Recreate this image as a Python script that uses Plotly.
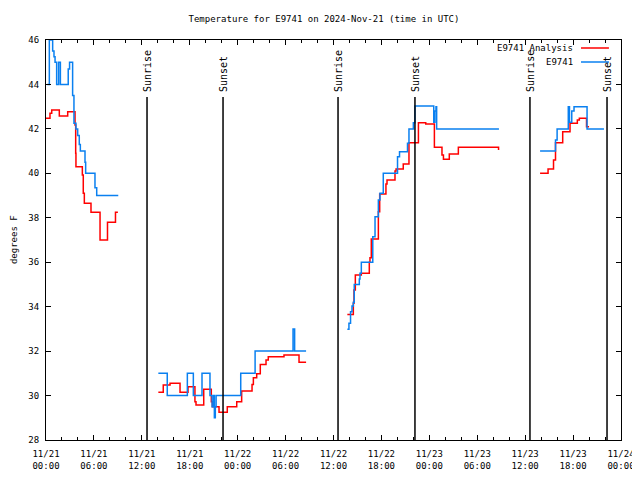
import plotly.graph_objects as go

# ---------------- data ----------------
blue_t1 = ["2024-11-21 00:10", "2024-11-21 00:25", "2024-11-21 00:50", "2024-11-21 01:00", "2024-11-21 01:08",
           "2024-11-21 01:20", "2024-11-21 01:35", "2024-11-21 01:48", "2024-11-21 02:47", "2024-11-21 02:57",
           "2024-11-21 03:20", "2024-11-21 03:30", "2024-11-21 03:45", "2024-11-21 03:58", "2024-11-21 04:10",
           "2024-11-21 04:18", "2024-11-21 04:53", "2024-11-21 04:58", "2024-11-21 06:08", "2024-11-21 06:21",
           "2024-11-21 09:03"]
blue_v1 = [44.0, 46.0, 45.5, 45.25, 45.0, 44.0, 45.0, 44.0, 44.7, 45.0,
           43.5, 42.25, 42.0, 41.7, 41.3, 41.0, 40.5, 40.0, 39.35, 39.0, 39.0]

red_t1 = ["2024-11-21 00:00", "2024-11-21 00:30", "2024-11-21 00:43", "2024-11-21 01:40", "2024-11-21 02:43",
          "2024-11-21 03:38", "2024-11-21 03:43", "2024-11-21 03:45", "2024-11-21 04:33", "2024-11-21 04:40",
          "2024-11-21 04:48", "2024-11-21 05:38", "2024-11-21 06:46", "2024-11-21 07:42", "2024-11-21 08:42",
          "2024-11-21 09:00"]
red_v1 = [42.48, 42.7, 42.85, 42.58, 42.77, 42.18, 40.9, 40.3, 39.93, 39.1,
          38.65, 38.25, 37.0, 37.8, 38.25, 38.25]

blue_t2 = ["2024-11-21 14:04", "2024-11-21 15:11", "2024-11-21 17:42", "2024-11-21 18:27", "2024-11-21 19:32",
           "2024-11-21 20:32", "2024-11-21 20:48", "2024-11-21 21:00", "2024-11-21 21:05", "2024-11-21 21:12",
           "2024-11-21 21:18", "2024-11-22 00:23", "2024-11-22 02:11", "2024-11-22 06:56", "2024-11-22 07:08",
           "2024-11-22 08:34"]
blue_v2 = [31.0, 30.0, 31.0, 30.0, 31.0, 30.0, 29.5, 30.0, 29.0, 29.5,
           30.0, 31.0, 32.0, 33.0, 32.0, 32.0]

red_t2 = ["2024-11-21 14:04", "2024-11-21 14:41", "2024-11-21 15:32", "2024-11-21 16:47", "2024-11-21 17:47",
          "2024-11-21 18:39", "2024-11-21 18:47", "2024-11-21 19:45", "2024-11-21 20:42", "2024-11-21 20:50",
          "2024-11-21 21:40", "2024-11-21 22:42", "2024-11-21 23:53", "2024-11-22 00:30", "2024-11-22 01:48",
          "2024-11-22 01:58", "2024-11-22 02:23", "2024-11-22 02:50", "2024-11-22 03:33", "2024-11-22 03:50",
          "2024-11-22 05:48", "2024-11-22 07:41", "2024-11-22 08:34"]
red_v2 = [30.15, 30.47, 30.55, 30.15, 30.4, 29.72, 29.58, 30.28, 29.72, 29.5,
          29.25, 29.5, 29.72, 30.2, 30.5, 30.8, 30.98, 31.4, 31.6, 31.75,
          31.82, 31.5, 31.5]

blue_t3 = ["2024-11-22 13:44", "2024-11-22 13:56", "2024-11-22 14:08", "2024-11-22 14:19", "2024-11-22 14:29",
           "2024-11-22 14:36", "2024-11-22 15:14", "2024-11-22 15:19", "2024-11-22 15:29", "2024-11-22 16:55",
           "2024-11-22 17:12", "2024-11-22 17:37", "2024-11-22 17:49", "2024-11-22 18:14", "2024-11-22 20:01",
           "2024-11-22 20:16", "2024-11-22 21:16", "2024-11-22 21:27", "2024-11-22 22:00", "2024-11-22 22:12",
           "2024-11-23 00:33", "2024-11-23 00:42", "2024-11-23 00:50", "2024-11-23 00:55", "2024-11-23 08:43"]
blue_v3 = [32.98, 33.25, 33.77, 34.03, 34.2, 35.0, 35.25, 35.5, 36.0, 37.15,
           38.05, 38.8, 39.1, 40.0, 40.75, 40.97, 41.35, 42.0, 42.28, 43.03,
           42.3, 42.8, 43.0, 42.0, 42.0]

red_t3 = ["2024-11-22 13:44", "2024-11-22 14:29", "2024-11-22 14:34", "2024-11-22 14:44", "2024-11-22 15:29",
          "2024-11-22 16:29", "2024-11-22 16:34", "2024-11-22 16:44", "2024-11-22 17:37", "2024-11-22 17:47",
          "2024-11-22 18:34", "2024-11-22 18:42", "2024-11-22 19:42", "2024-11-22 19:50", "2024-11-22 20:44",
          "2024-11-22 21:27", "2024-11-22 22:38", "2024-11-22 23:33", "2024-11-23 00:38", "2024-11-23 01:35",
          "2024-11-23 01:46", "2024-11-23 02:30", "2024-11-23 03:38", "2024-11-23 08:38", "2024-11-23 08:40"]
red_v3 = [33.65, 34.15, 34.75, 35.42, 35.5, 36.0, 36.2, 37.05, 38.27, 39.07,
          39.52, 39.7, 40.1, 40.2, 40.42, 41.38, 42.28, 42.22, 41.17, 40.82,
          40.63, 40.87, 41.17, 41.17, 41.05]

blue_t4 = ["2024-11-23 13:52", "2024-11-23 15:48", "2024-11-23 16:00", "2024-11-23 17:24", "2024-11-23 17:33",
           "2024-11-23 17:50", "2024-11-23 18:07", "2024-11-23 19:45", "2024-11-23 21:52"]
blue_v4 = [41.0, 41.5, 42.0, 43.0, 42.3, 42.8, 43.0, 42.0, 42.0]

red_t4 = ["2024-11-23 13:52", "2024-11-23 14:52", "2024-11-23 15:33", "2024-11-23 15:48", "2024-11-23 16:42",
          "2024-11-23 17:37", "2024-11-23 18:32", "2024-11-23 18:47", "2024-11-23 19:41", "2024-11-23 20:00"]
red_v4 = [40.0, 40.2, 40.6, 41.38, 41.87, 42.25, 42.4, 42.48, 42.1, 42.1]

sunrise_times = ["2024-11-21 12:39", "2024-11-22 12:34", "2024-11-23 12:36"]
sunset_times = ["2024-11-21 22:10", "2024-11-22 22:12", "2024-11-23 22:15"]

x_tick_vals = ["2024-11-21 00:00", "2024-11-21 06:00", "2024-11-21 12:00", "2024-11-21 18:00",
               "2024-11-22 00:00", "2024-11-22 06:00", "2024-11-22 12:00", "2024-11-22 18:00",
               "2024-11-23 00:00", "2024-11-23 06:00", "2024-11-23 12:00", "2024-11-23 18:00",
               "2024-11-24 00:00"]
x_tick_text = ["11/21<br>00:00", "11/21<br>06:00", "11/21<br>12:00", "11/21<br>18:00",
               "11/22<br>00:00", "11/22<br>06:00", "11/22<br>12:00", "11/22<br>18:00",
               "11/23<br>00:00", "11/23<br>06:00", "11/23<br>12:00", "11/23<br>18:00",
               "11/24<br>00:00"]

title_text = "Temperature for E9741 on 2024-Nov-21 (time in UTC)"
y_title = "degrees F"
name_red = "E9741 Analysis"
name_blue = "E9741"

RED = "#ff0000"
BLUE = "#0a80f0"
FONT = "DejaVu Sans Mono"

# the page body has an 8px margin; the figure is sized to fill what is left
FIG_W, FIG_H = 632, 472


def join(*parts):
    out_t, out_v = [], []
    for t, v in parts:
        if out_t:
            out_t.append(None)
            out_v.append(None)
        out_t.extend(t)
        out_v.extend(v)
    return out_t, out_v


rt, rv = join((red_t1, red_v1), (red_t2, red_v2), (red_t3, red_v3), (red_t4, red_v4))
bt, bv = join((blue_t1, blue_v1), (blue_t2, blue_v2), (blue_t3, blue_v3), (blue_t4, blue_v4))

fig = go.Figure()
fig.add_trace(go.Scatter(x=rt, y=rv, mode="lines", line=dict(color=RED, width=1.5, shape="hv"),
                         name=name_red, connectgaps=False))
fig.add_trace(go.Scatter(x=bt, y=bv, mode="lines", line=dict(color=BLUE, width=1.5, shape="hv"),
                         name=name_blue, connectgaps=False))

shapes = []
annotations = []
LINE_TOP = 0.8575
LABEL_BOTTOM = 0.865
for t in sunrise_times + sunset_times:
    shapes.append(dict(type="line", xref="x", yref="paper", x0=t, x1=t, y0=0, y1=LINE_TOP,
                       line=dict(color="black", width=1.5)))
for t in sunrise_times:
    annotations.append(dict(x=t, xref="x", y=LABEL_BOTTOM, yref="paper", text="Sunrise", textangle=-90,
                            showarrow=False, xanchor="center", yanchor="bottom",
                            font=dict(family=FONT, size=10, color="black")))
for t in sunset_times:
    annotations.append(dict(x=t, xref="x", y=LABEL_BOTTOM, yref="paper", text="Sunset", textangle=-90,
                            showarrow=False, xanchor="center", yanchor="bottom",
                            font=dict(family=FONT, size=10, color="black")))

# gnuplot-style key (top right, text right aligned, sample to the right)
key_rows = [(name_red, RED, 0.98), (name_blue, BLUE, 0.945)]
for name, col, yy in key_rows:
    annotations.append(dict(x=0.92, xref="paper", y=yy, yref="paper", text=name, showarrow=False,
                            xanchor="right", yanchor="middle", font=dict(family=FONT, size=9, color="black")))
    shapes.append(dict(type="line", xref="paper", yref="paper", x0=0.9304, x1=0.979, y0=yy, y1=yy,
                       line=dict(color=col, width=1.5)))

annotations.append(dict(x=-0.0555, xref="paper", y=0.5, yref="paper", text=y_title, textangle=-90,
                        showarrow=False, xanchor="center", yanchor="middle", borderpad=0,
                        font=dict(family=FONT, size=9, color="black")))

fig.update_layout(
    width=FIG_W, height=FIG_H,
    autosize=False,
    margin=dict(l=38, r=19, t=32, b=40, autoexpand=False),
    paper_bgcolor="white", plot_bgcolor="white",
    showlegend=False,
    title=dict(text=title_text, x=0.5, xref="container", xanchor="center",
               y=1 - 11 / FIG_H, yref="container", yanchor="middle",
               font=dict(family=FONT, size=9, color="black")),
    font=dict(family=FONT, size=9, color="black"),
    shapes=shapes, annotations=annotations,
)
fig.update_xaxes(
    type="date", range=["2024-11-21 00:00", "2024-11-24 00:00"],
    tickvals=x_tick_vals, ticktext=x_tick_text,
    ticks="inside", ticklen=5, tickcolor="black", tickwidth=1,
    minor=dict(dtick=2 * 3600 * 1000, ticks="inside", ticklen=3, tickcolor="black", showgrid=False),
    showline=True, linecolor="black", linewidth=1, mirror="allticks",
    showgrid=False, zeroline=False, automargin=False, ticklabelstandoff=5,
    tickfont=dict(family=FONT, size=9, color="black"),
)
fig.update_yaxes(
    range=[28, 46], dtick=2, tick0=28,
    ticks="inside", ticklen=5, tickcolor="black", tickwidth=1,
    showline=True, linecolor="black", linewidth=1, mirror="allticks",
    showgrid=False, zeroline=False, automargin=False, ticklabelstandoff=4,
    tickfont=dict(family=FONT, size=9, color="black"),
)

fig.write_html("out.html")
